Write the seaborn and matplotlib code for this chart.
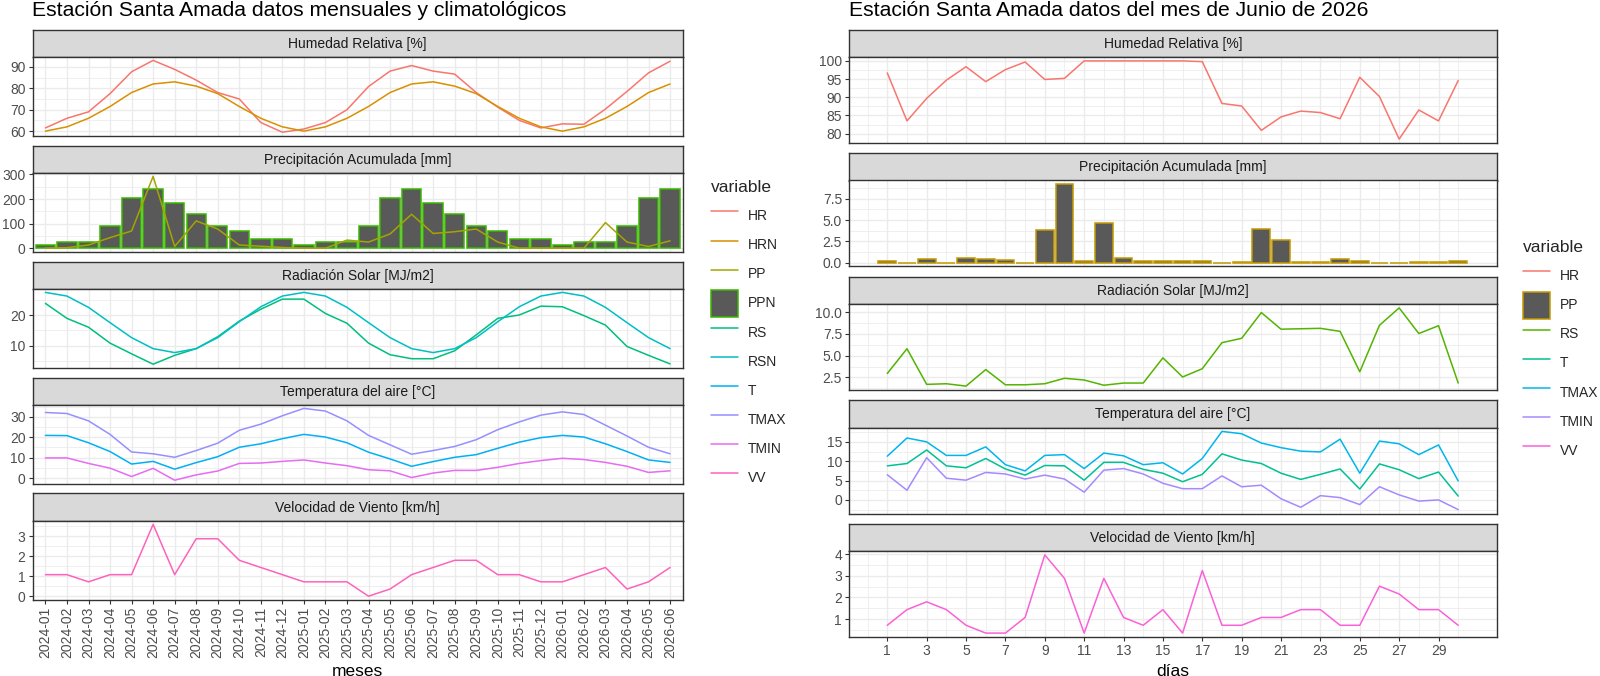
import numpy as np
import pandas as pd
import matplotlib
matplotlib.use("Agg")
import matplotlib.pyplot as plt
import seaborn as sns
from matplotlib.lines import Line2D
from matplotlib.patches import Patch
from matplotlib.ticker import MultipleLocator, FixedLocator, NullLocator, FormatStrFormatter

# ---------------- data: monthly ----------------
meses = ["2024-01", "2024-02", "2024-03", "2024-04", "2024-05", "2024-06",
         "2024-07", "2024-08", "2024-09", "2024-10", "2024-11", "2024-12",
         "2025-01", "2025-02", "2025-03", "2025-04", "2025-05", "2025-06",
         "2025-07", "2025-08", "2025-09", "2025-10", "2025-11", "2025-12",
         "2026-01", "2026-02", "2026-03", "2026-04", "2026-05", "2026-06"]

HR_m = [61.5, 66, 69, 77.5, 87.7, 93, 88.8, 83.8, 78, 75, 64, 59.5,
        61, 64, 70, 80.8, 88, 90.6, 88, 86.6, 78, 71.2, 65, 61.5,
        63.4, 63.2, 70.3, 78.5, 87.2, 92.6]
HRN_m = [60, 62, 66, 71.5, 78, 82, 83, 81, 77.5, 71.5, 66, 62,
         60, 62, 66, 71.5, 78, 82, 83, 81, 77.5, 71.5, 66, 62,
         60, 62, 66, 71.5, 78, 82]
PP_m = [0, 2, 13, 43, 70, 292, 7, 111, 78, 13, 8, 3,
        0, 0, 33, 25, 58, 138, 60, 67, 78, 25, 0, 0,
        0, 0, 104, 25, 7, 30]
PPN_m = [13, 27, 27, 92, 206, 241, 185, 139, 92, 71, 36, 36,
         13, 27, 27, 92, 206, 241, 185, 139, 92, 71, 36, 36,
         13, 27, 27, 92, 206, 241]
RS_m = [23.8, 18.9, 16.0, 10.8, 7.3, 3.9, 6.8, 9.0, 12.9, 18.0, 21.9, 25.2,
        25.2, 20.5, 17.3, 10.8, 7.0, 5.7, 5.7, 8.3, 13.5, 18.9, 20.0, 22.9,
        22.7, 19.8, 16.7, 9.7, 6.8, 4.0]
RSN_m = [27.4, 26.2, 22.5, 17.5, 12.6, 9.0, 7.7, 9.0, 12.6, 17.8, 22.7, 26.2,
         27.4, 26.2, 22.5, 17.5, 12.6, 9.0, 7.7, 9.0, 12.6, 17.8, 22.7, 26.2,
         27.4, 26.2, 22.5, 17.5, 12.6, 9.0]
T_m = [20.9, 20.8, 17.3, 13.0, 6.9, 8.2, 4.4, 7.6, 10.5, 15.1, 16.8, 19.3,
       21.4, 20.1, 17.3, 12.7, 9.4, 5.8, 8.1, 10.2, 11.5, 14.6, 17.6, 19.8,
       20.9, 20.1, 16.8, 13.0, 8.9, 7.7]
TMAX_m = [32.1, 31.6, 28.0, 21.4, 12.8, 11.9, 10.2, 13.5, 17.1, 23.4, 26.4, 30.5,
          34.1, 32.8, 28.0, 20.9, 16.3, 11.7, 13.5, 15.5, 18.8, 23.7, 27.5, 30.8,
          32.4, 31.1, 25.9, 20.6, 15.1, 11.9]
TMIN_m = [9.9, 9.9, 7.2, 4.9, 0.8, 4.8, -1.0, 1.6, 3.5, 7.2, 7.4, 8.2,
          8.9, 7.4, 6.1, 4.1, 3.6, 0.3, 2.5, 3.8, 3.8, 5.3, 7.2, 8.6,
          9.7, 9.1, 7.7, 5.8, 2.8, 3.6]
VV_m = [1.08, 1.08, 0.72, 1.08, 1.08, 3.6, 1.08, 2.88, 2.88, 1.8, 1.44, 1.08,
        0.72, 0.72, 0.72, 0.0, 0.36, 1.08, 1.44, 1.8, 1.8, 1.08, 1.08, 0.72,
        0.72, 1.08, 1.44, 0.36, 0.72, 1.44]

# ---------------- data: daily (June 2026) ----------------
dias = list(range(1, 31))
HR_d = [96.7, 83.5, 89.7, 94.7, 98.4, 94.3, 97.6, 99.7, 94.9, 95.2,
        100, 100, 100, 100, 100, 100, 99.8, 88.3, 87.6, 80.9,
        84.6, 86.2, 85.8, 84.1, 95.5, 90.2, 78.5, 86.5, 83.5, 94.6]
PP_d = [0.2, 0.0, 0.4, 0.0, 0.5, 0.4, 0.3, 0.0, 3.8, 9.2,
        0.2, 4.7, 0.5, 0.2, 0.2, 0.2, 0.2, 0.0, 0.1, 4.0,
        2.7, 0.1, 0.1, 0.4, 0.2, 0.0, 0.0, 0.1, 0.1, 0.2]
RS_d = [2.95, 5.8, 1.7, 1.77, 1.5, 3.4, 1.65, 1.65, 1.77, 2.4,
        2.2, 1.6, 1.85, 1.85, 4.75, 2.55, 3.5, 6.5, 7.0, 9.96,
        8.05, 8.1, 8.15, 7.8, 3.15, 8.5, 10.5, 7.55, 8.45, 1.85]
TMAX_d = [11.3, 16.0, 15.0, 11.5, 11.5, 13.7, 9.1, 7.5, 11.5, 11.7,
          8.1, 12.1, 11.4, 9.1, 9.6, 6.7, 10.7, 17.7, 17.1, 14.7,
          13.5, 12.6, 12.4, 15.7, 6.9, 15.2, 14.5, 11.7, 14.2, 4.9]
T_d = [8.8, 9.4, 12.9, 8.8, 8.3, 10.7, 8.0, 6.4, 8.9, 8.8,
       5.1, 9.7, 9.7, 7.9, 6.9, 4.7, 6.6, 11.9, 10.3, 9.4,
       6.9, 5.3, 6.6, 8.0, 2.8, 9.3, 7.8, 5.5, 7.2, 1.0]
TMIN_d = [6.5, 2.5, 10.9, 5.6, 5.1, 7.1, 6.7, 5.4, 6.4, 5.4,
          2.0, 7.7, 8.1, 6.7, 4.3, 2.9, 2.9, 6.2, 3.4, 3.8,
          0.3, -1.9, 1.1, 0.6, -1.2, 3.4, 1.3, -0.3, 0.0, -2.5]
VV_d = [0.72, 1.44, 1.8, 1.44, 0.72, 0.36, 0.36, 1.08, 3.96, 2.88,
        0.36, 2.88, 1.08, 0.72, 1.44, 0.36, 3.24, 0.72, 0.72, 1.08,
        1.08, 1.44, 1.44, 0.72, 0.72, 2.52, 2.16, 1.44, 1.44, 0.72]

facetas = ["Humedad Relativa [%]", "Precipitación Acumulada [mm]",
           "Radiación Solar [MJ/m2]", "Temperatura del aire [°C]",
           "Velocidad de Viento [km/h]"]

pal_m = {"HR": "#F8766D", "HRN": "#D89000", "PP": "#A3A500", "PPN": "#39B600",
         "RS": "#00BF7D", "RSN": "#00BFC4", "T": "#00B0F6", "TMAX": "#9590FF",
         "TMIN": "#E76BF3", "VV": "#FF62BC"}
pal_d = {"HR": "#F8766D", "PP": "#C49A00", "RS": "#53B400", "T": "#00C094",
         "TMAX": "#00B6EB", "TMIN": "#A58AFF", "VV": "#FB61D7"}

# ---------------- theme ----------------
sns.set_theme(style="white")
plt.rcParams['font.family'] = ['Liberation Sans', 'DejaVu Sans']

W, H = 1600, 676
fig = plt.figure(figsize=(W / 100, H / 100), dpi=100)
fig.patch.set_facecolor("white")

GRID = "#EBEBEB"
DARK = "#333333"
TXT = "#4D4D4D"
LW = 1.1
FS = 10


def build(x0, x1, top0, period, strip_h, panel_h):
    out = []
    for i in range(5):
        st = top0 + i * period
        sax = fig.add_axes([x0 / W, 1 - (st + strip_h) / H, (x1 - x0) / W, strip_h / H])
        pax = fig.add_axes([x0 / W, 1 - (st + strip_h + panel_h) / H, (x1 - x0) / W, panel_h / H])
        sax.set_facecolor("#D9D9D9")
        sax.set_xticks([]); sax.set_yticks([])
        for s in sax.spines.values():
            s.set_color(DARK); s.set_linewidth(1.0)
        sax.text(0.5, 0.48, facetas[i], ha="center", va="center", fontsize=FS,
                 color="#1A1A1A", transform=sax.transAxes)
        out.append(pax)
    return out


def lims(vals, lo_extra=None):
    v = np.concatenate([np.asarray(a, dtype=float) for a in vals])
    lo, hi = v.min(), v.max()
    if lo_extra is not None:
        lo = min(lo, lo_extra)
    r = hi - lo
    return lo - 0.05 * r, hi + 0.05 * r


def style(ax, xlim, ylim, ymaj, fmt=None):
    ax.set_facecolor("white")
    ax.set_xlim(xlim); ax.set_ylim(ylim)
    ax.yaxis.set_major_locator(MultipleLocator(ymaj))
    ax.yaxis.set_minor_locator(MultipleLocator(ymaj / 2))
    if fmt:
        ax.yaxis.set_major_formatter(FormatStrFormatter(fmt))
    ax.grid(which="major", color=GRID, lw=1.0)
    ax.grid(which="minor", color=GRID, lw=0.55)
    ax.set_axisbelow(True)
    for s in ax.spines.values():
        s.set_color(DARK); s.set_linewidth(1.0); s.set_zorder(5)
    ax.tick_params(axis="y", which="major", length=3, width=0.8, color=DARK,
                   labelsize=FS, labelcolor=TXT, pad=2, left=True)
    ax.tick_params(which="minor", length=0)
    ax.set_xlabel(""); ax.set_ylabel("")


def lines(ax, x, series, pal):
    rows = []
    for name, vals in series.items():
        for xi, v in zip(x, vals):
            rows.append((xi, v, name))
    df = pd.DataFrame(rows, columns=["x", "valor", "variable"])
    sns.lineplot(data=df, x="x", y="valor", hue="variable", palette=pal, ax=ax,
                 legend=False, linewidth=LW, estimator=None, sort=False, zorder=3)


def legend(handles, x_px, top_px):
    leg = fig.legend(handles=handles, title="variable", loc="upper left",
                     bbox_to_anchor=(x_px / W, 1 - top_px / H), frameon=False,
                     fontsize=FS, title_fontsize=12.5, handlelength=1.94, handleheight=2.61,
                     handletextpad=0.72, labelspacing=0.15, borderpad=0, borderaxespad=0,
                     alignment="left")
    leg._legend_box.sep = 5.5
    return leg


# ================= LEFT: monthly =================
pos = list(range(len(meses)))
L = build(32.5, 683, 29.5, 116, 27.3, 79)
xl = (-0.6, len(meses) - 1 + 0.6)

lines(L[0], pos, {"HR": HR_m, "HRN": HRN_m}, pal_m)
style(L[0], xl, lims([HR_m, HRN_m]), 10)

sns.barplot(x=pos, y=PPN_m, ax=L[1], native_scale=True, width=0.9, color="#595959",
            saturation=1, edgecolor=pal_m["PPN"], linewidth=1.1, errorbar=None, zorder=2)
lines(L[1], pos, {"PP": PP_m}, pal_m)
style(L[1], xl, lims([PP_m, PPN_m], 0), 100)

lines(L[2], pos, {"RS": RS_m, "RSN": RSN_m}, pal_m)
style(L[2], xl, lims([RS_m, RSN_m]), 10)

lines(L[3], pos, {"T": T_m, "TMAX": TMAX_m, "TMIN": TMIN_m}, pal_m)
style(L[3], xl, lims([T_m, TMAX_m, TMIN_m]), 10)

lines(L[4], pos, {"VV": VV_m}, pal_m)
style(L[4], xl, lims([VV_m]), 1)

for i, ax in enumerate(L):
    ax.xaxis.set_major_locator(FixedLocator(pos))
    ax.xaxis.set_minor_locator(NullLocator())
    if i < 4:
        ax.tick_params(axis="x", which="both", length=0, labelbottom=False)
L[4].set_xticks(pos)
L[4].set_xticklabels(meses, rotation=90)
L[4].tick_params(axis="x", which="major", length=3, width=0.8, color=DARK,
                 labelsize=FS, labelcolor=TXT, pad=2, bottom=True)
fig.text((32.5 + 683) / 2 / W, 1 - 671 / H, "meses", ha="center", va="center",
         fontsize=12.5, color="black")
fig.text(32.5 / W, 1 - 10 / H, "Estación Santa Amada datos mensuales y climatológicos",
         ha="left", va="center", fontsize=15.2, color="black")

hl = []
for k in ["HR", "HRN", "PP", "PPN", "RS", "RSN", "T", "TMAX", "TMIN", "VV"]:
    if k == "PPN":
        hl.append(Patch(facecolor="#595959", edgecolor=pal_m[k], linewidth=1.1, label=k))
    else:
        hl.append(Line2D([], [], color=pal_m[k], lw=LW, label=k))
leg1 = legend(hl, 711, 180)

# ================= RIGHT: daily =================
R = build(849, 1496.5, 29.5, 123.5, 27.5, 86)
xr = (0.55 - 0.05 * 29.9, 30.45 + 0.05 * 29.9)

lines(R[0], dias, {"HR": HR_d}, pal_d)
style(R[0], xr, lims([HR_d]), 5)

sns.barplot(x=dias, y=PP_d, ax=R[1], native_scale=True, width=0.9, color="#595959",
            saturation=1, edgecolor=pal_d["PP"], linewidth=1.1, errorbar=None, zorder=2)
style(R[1], xr, lims([PP_d], 0), 2.5, "%.1f")

lines(R[2], dias, {"RS": RS_d}, pal_d)
style(R[2], xr, lims([RS_d]), 2.5, "%.1f")

lines(R[3], dias, {"T": T_d, "TMAX": TMAX_d, "TMIN": TMIN_d}, pal_d)
style(R[3], xr, lims([T_d, TMAX_d, TMIN_d]), 5)

lines(R[4], dias, {"VV": VV_d}, pal_d)
style(R[4], xr, lims([VV_d]), 1)

odd = list(range(1, 30, 2))
even = list(range(0, 31, 2))
for i, ax in enumerate(R):
    ax.xaxis.set_major_locator(FixedLocator(odd))
    ax.xaxis.set_minor_locator(FixedLocator(even))
    if i < 4:
        ax.tick_params(axis="x", which="both", length=0, labelbottom=False)
R[4].set_xticks(odd)
R[4].set_xticklabels([str(d) for d in odd])
R[4].tick_params(axis="x", which="major", length=3, width=0.8, color=DARK,
                 labelsize=FS, labelcolor=TXT, pad=2, bottom=True)
R[4].tick_params(axis="x", which="minor", length=0)
fig.text((849 + 1496.5) / 2 / W, 1 - 671 / H, "días", ha="center", va="center",
         fontsize=12.5, color="black")
fig.text(849 / W, 1 - 10 / H, "Estación Santa Amada datos del mes de Junio de 2026",
         ha="left", va="center", fontsize=15.2, color="black")

hr = []
for k in ["HR", "PP", "RS", "T", "TMAX", "TMIN", "VV"]:
    if k == "PP":
        hr.append(Patch(facecolor="#595959", edgecolor=pal_d[k], linewidth=1.1, label=k))
    else:
        hr.append(Line2D([], [], color=pal_d[k], lw=LW, label=k))
leg2 = legend(hr, 1523, 240)

fig.savefig("out.png", dpi=100, facecolor="white")
